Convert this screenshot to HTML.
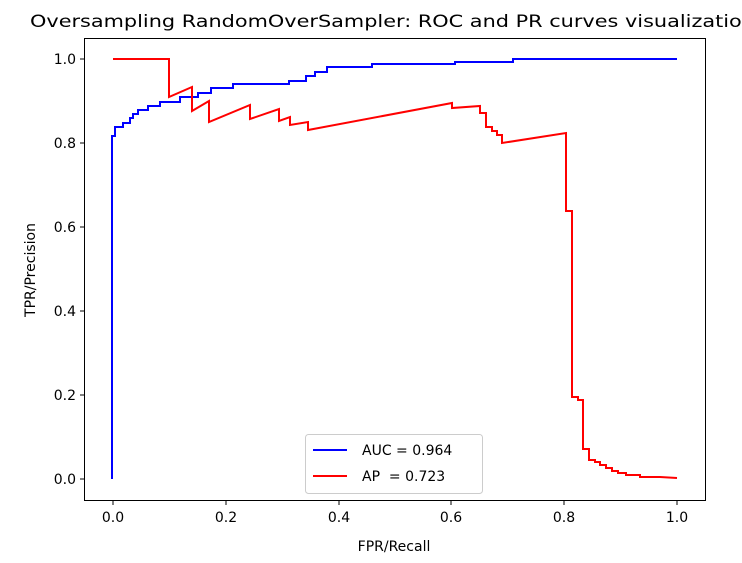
<!DOCTYPE html>
<html><head><style>body{margin:0;background:#fff;overflow:hidden}svg{display:block}</style></head><body>
<svg width="742" height="563" xmlns="http://www.w3.org/2000/svg" font-family="'DejaVu Sans','Liberation Sans',sans-serif">
<rect width="742" height="563" fill="#fff"/>
<text x="30" y="27" font-size="17" textLength="725" lengthAdjust="spacingAndGlyphs">Oversampling RandomOverSampler: ROC and PR curves visualization</text>
<g fill="none" stroke-width="2">
<path stroke="#0000ff" d="M112,479 V136 H115 V127 H123 V123 H130 V118 H133 V114 H138 V110 H148 V106 H160 V102 H180 V97 H198 V93 H211 V88 H233 V84 H289 V81 H306 V76 H315 V72 H327 V67 H372 V64 H455 V62 H513 V59 H677"/>
<path stroke="#ff0000" d="M113,59 H169 V97 L192,87 V111 L209,101 V122 L250,105 V119 L279,109 V121 L290,117 V125 L308,122 V130 L452,103 V108 L480,106 V113 L486,113 V127 L492,127 V131 L497,131 V135 L502,135 V143 L566,133 V211 L572,211 V397 L578,397 V400 L583,400 V449 L589,449 V460 L595,460 V462 L600,462 V465 L606,465 V468 L612,468 V471 L618,471 V473 L626,473 V475 L640,475 V477 L660,477 L677,478"/>
</g>
<rect x="84.5" y="38.5" width="621" height="462" fill="none" stroke="#000" stroke-width="1"/>
<g stroke="#000" stroke-width="1">
<line x1="113" y1="501" x2="113" y2="505"/><line x1="226" y1="501" x2="226" y2="505"/><line x1="339" y1="501" x2="339" y2="505"/><line x1="451" y1="501" x2="451" y2="505"/><line x1="564" y1="501" x2="564" y2="505"/><line x1="677" y1="501" x2="677" y2="505"/>
<line x1="80" y1="479" x2="84" y2="479"/><line x1="80" y1="395" x2="84" y2="395"/><line x1="80" y1="311" x2="84" y2="311"/><line x1="80" y1="227" x2="84" y2="227"/><line x1="80" y1="143" x2="84" y2="143"/><line x1="80" y1="59" x2="84" y2="59"/>
</g>
<g font-size="14" text-anchor="middle">
<text x="113" y="522">0.0</text><text x="226" y="522">0.2</text><text x="339" y="522">0.4</text><text x="451" y="522">0.6</text><text x="564" y="522">0.8</text><text x="677" y="522">1.0</text>
<text x="394" y="551">FPR/Recall</text>
</g>
<g font-size="14" text-anchor="end">
<text x="76" y="484">0.0</text><text x="76" y="400">0.2</text><text x="76" y="316">0.4</text><text x="76" y="232">0.6</text><text x="76" y="148">0.8</text><text x="76" y="64">1.0</text>
</g>
<text transform="translate(35,270) rotate(-90)" font-size="14" text-anchor="middle">TPR/Precision</text>
<rect x="305.5" y="434.5" width="177" height="59" rx="3" fill="#fff" stroke="#ccc"/>
<line x1="313" y1="450" x2="347" y2="450" stroke="#0000ff" stroke-width="2"/>
<line x1="313" y1="476" x2="347" y2="476" stroke="#ff0000" stroke-width="2"/>
<text x="362" y="455" font-size="14" xml:space="preserve">AUC = 0.964</text>
<text x="362" y="481" font-size="14" xml:space="preserve">AP  = 0.723</text>
</svg>
</body></html>
